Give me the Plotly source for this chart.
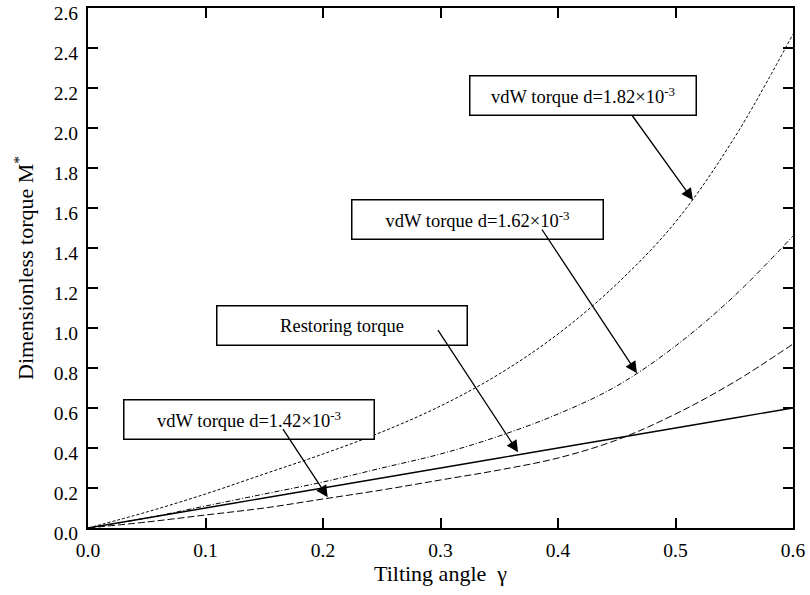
import plotly.graph_objects as go

# Tilting angle samples
gamma = [0.0, 0.05, 0.1, 0.15, 0.2, 0.25, 0.3, 0.35, 0.4, 0.45, 0.5, 0.55, 0.6]

restoring = [0.0, 0.05, 0.10, 0.15, 0.20, 0.25, 0.30, 0.35, 0.40, 0.45, 0.50, 0.55, 0.60]
vdw_142 = [0.0, 0.03, 0.065, 0.10, 0.145, 0.19, 0.24, 0.29, 0.35, 0.44, 0.57, 0.73, 0.92]
vdw_162 = [0.0, 0.05, 0.11, 0.17, 0.23, 0.30, 0.37, 0.46, 0.57, 0.71, 0.91, 1.16, 1.46]
vdw_182 = [0.0, 0.08, 0.17, 0.27, 0.37, 0.48, 0.61, 0.77, 0.97, 1.22, 1.53, 1.95, 2.47]

series_names = ["Restoring torque", "vdW torque d=1.42×10<sup>-3</sup>",
                "vdW torque d=1.62×10<sup>-3</sup>", "vdW torque d=1.82×10<sup>-3</sup>"]

x_ticks = [0.0, 0.1, 0.2, 0.3, 0.4, 0.5, 0.6]
y_ticks = [0.0, 0.2, 0.4, 0.6, 0.8, 1.0, 1.2, 1.4, 1.6, 1.8, 2.0, 2.2, 2.4, 2.6]

# label boxes: (text, box centre x, box centre y, arrow start x, y, arrow tip x, y, width px)
labels = [
    (series_names[3], 0.4211, 2.164, 0.4622, 2.070, 0.5149, 1.639, 223),
    (series_names[2], 0.3319, 1.543, 0.3855, 1.500, 0.4672, 0.774, 248),
    (series_names[0], 0.2162, 1.014, 0.2970, 0.997, 0.3660, 0.379, 247),
    (series_names[1], 0.1370, 0.545, 0.1651, 0.502, 0.2040, 0.154, 247),
]

FONT = "Liberation Serif, Times New Roman, serif"

fig = go.Figure()
styles = [
    (restoring, "solid", 1.3),
    (vdw_142, "7px,3px", 1.0),
    (vdw_162, "5px,2px,1px,2px", 1.0),
    (vdw_182, "3px,2px", 1.0),
]
for (vals, dash, w), name in zip(styles, series_names):
    fig.add_trace(go.Scatter(x=gamma, y=vals, mode="lines", name=name,
                             line=dict(color="black", width=w, dash=dash, shape="spline"),
                             showlegend=False))

for text, bx, by, sx, sy, tx, ty, wpx in labels:
    fig.add_annotation(x=bx, y=by, xref="x", yref="y", text=text, showarrow=False,
                       width=wpx, height=36, bordercolor="black", borderwidth=1.5,
                       borderpad=1, bgcolor="white",
                       font=dict(family=FONT, size=18.5, color="black"))
    fig.add_annotation(x=tx, y=ty, ax=sx, ay=sy, xref="x", yref="y", axref="x", ayref="y",
                       text="", showarrow=True, arrowhead=2, arrowsize=1.8,
                       arrowwidth=1.3, arrowcolor="black", standoff=0, startstandoff=0)

axis_common = dict(showline=True, linecolor="black", linewidth=2, mirror="ticks",
                   ticks="inside", ticklen=10, tickwidth=2, tickcolor="black",
                   showgrid=False, zeroline=False, automargin=False,
                   ticklabeloverflow="allow",
                   tickfont=dict(family=FONT, size=19.5, color="black"))

fig.update_xaxes(range=[0, 0.6], tickvals=x_ticks, ticktext=[f"{v:.1f}" for v in x_ticks],
                 title=dict(text="Tilting angle  γ", font=dict(family=FONT, size=22, color="black"),
                            standoff=4),
                 ticklabelstandoff=4, **axis_common)
fig.update_yaxes(range=[0, 2.6], tickvals=y_ticks, ticktext=[f"{v:.1f}" for v in y_ticks],
                 title=dict(text="Dimensionless torque M<sup>*</sup>",
                            font=dict(family=FONT, size=22, color="black"), standoff=14),
                 ticklabelstandoff=4, ticklabelshift=5, **axis_common)

fig.update_layout(width=810, height=595, margin=dict(l=88, r=17, t=8, b=67),
                  paper_bgcolor="white", plot_bgcolor="white",
                  font=dict(family=FONT, color="black"))

fig.write_html("out.html")
